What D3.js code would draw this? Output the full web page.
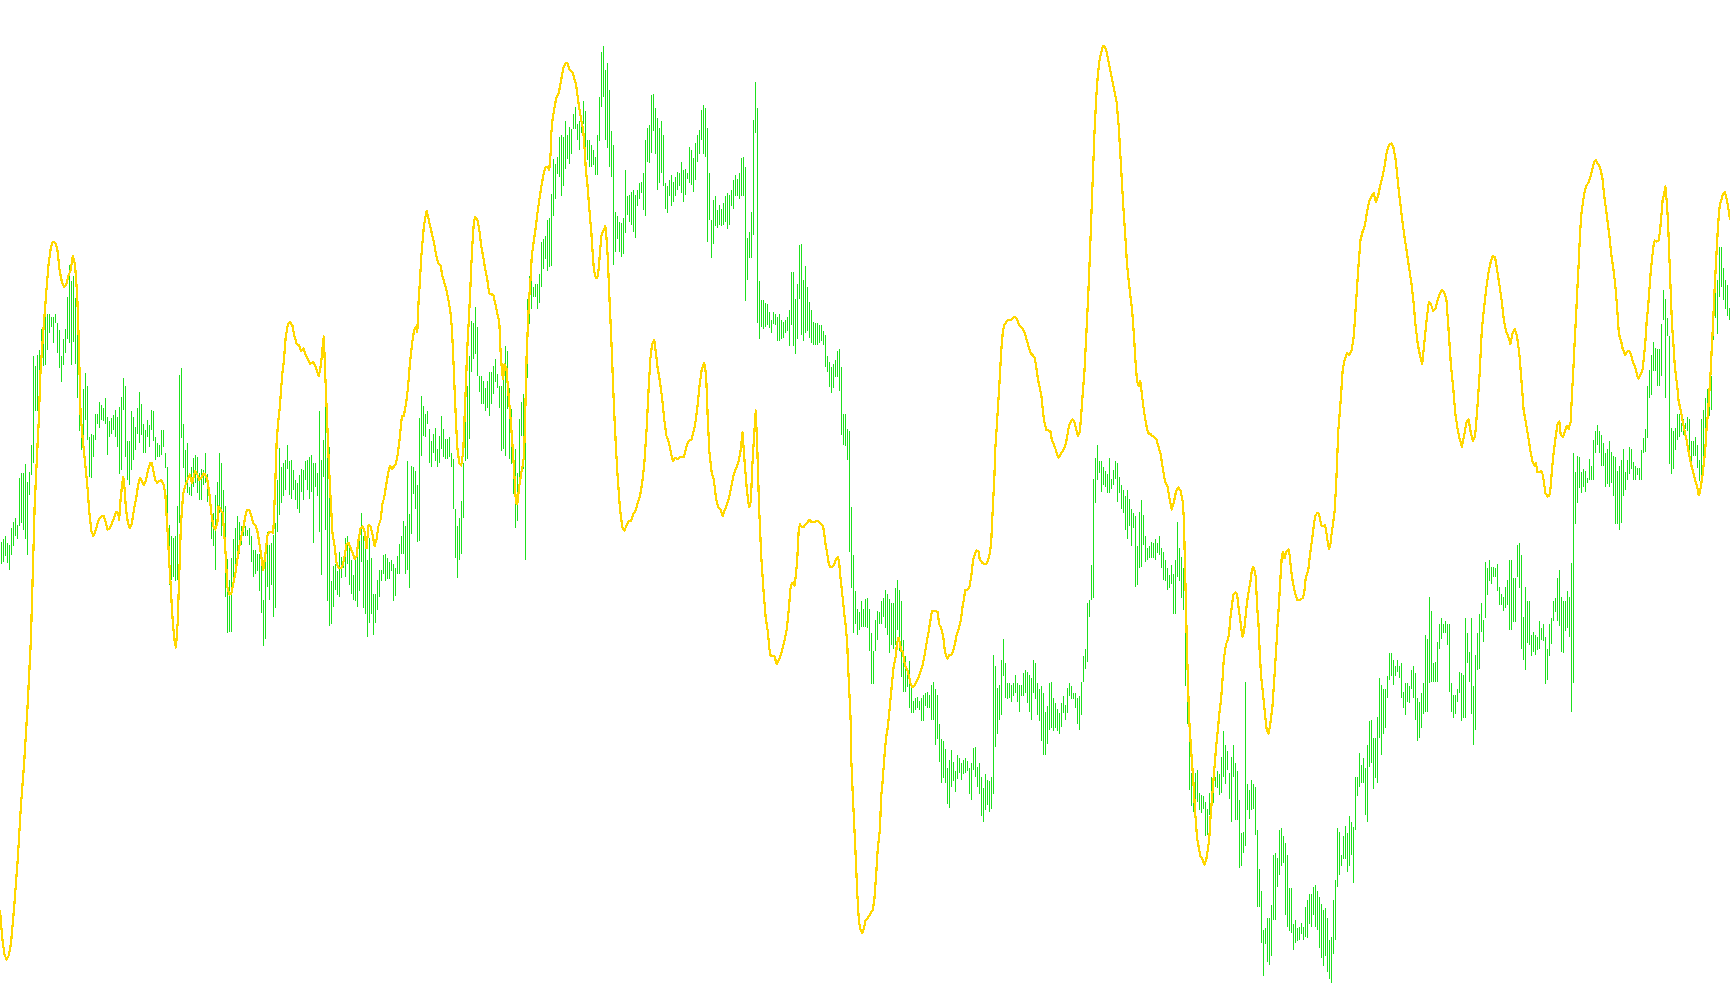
<!DOCTYPE html>
<html><head><meta charset="utf-8">
<script src="https://cdn.jsdelivr.net/npm/d3@7"></script>
<style>html,body{margin:0;padding:0;background:#fff;overflow:hidden}</style>
</head><body>
<svg id="chart" width="1730" height="1005"></svg>
<script>
const barHigh = [
509,511,514,508,506,521,527,530,524,567,571,571,579,563,572,597,677,668,678,683,
702,702,713,715,715,713,713,715,707,701,677,693,702,731,760,745,750,730,709,653,
619,647,662,650,604,607,606,625,625,636,633,630,639,622,618,621,624,628,622,631,
640,657,650,600,600,627,622,613,630,645,634,616,610,619,615,628,627,604,598,597,
610,610,589,577,524,514,512,514,541,660,666,616,592,598,559,577,
585,588,586,571,575,574,589,570,559,536,535,551,563,589,580,556,541,493,474,494,
511,521,532,527,523,529,523,520,521,514,501,501,498,498,489,456,504,518,506,508,
515,526,565,594,577,580,583,597,582,583,574,565,562,569,575,574,582,583,586,588,
580,580,571,627,583,601,639,621,595,473,487,489,482,500,495,494,512,514,505,492,
479,492,495,514,535,514,509,492,512,494,462,462,474,483,483,497,
498,494,491,492,489,485,496,507,514,528,523,582,534,578,577,573,560,621,641,632,
625,627,611,600,607,612,593,605,623,611,602,602,604,589,584,539,523,530,546,580,
648,650,677,709,707,722,704,659,659,655,648,655,663,663,668,675,661,650,650,663,
686,682,648,629,595,593,571,620,636,643,657,729,750,752,740,743,743,752,781,783,
786,801,802,824,856,851,858,876,878,876,890,878,885,883,897,903,
888,890,894,908,899,873,873,869,864,858,878,912,953,958,937,943,918,881,869,808,
804,799,798,802,846,822,823,826,828,823,828,834,835,843,873,884,887,914,915,902,
893,884,890,878,834,831,837,841,835,840,844,843,853,846,847,843,867,864,857,870,
878,882,900,905,902,884,843,801,819,822,810,814,811,816,822,825,823,828,837,841,
838,843,857,858,849,784,790,808,891,926,902,745,728,728,725,724,
717,710,717,715,713,715,710,708,710,713,719,753,753,729,743,778,779,746,759,740,
726,719,708,707,707,705,705,700,696,677,672,667,670,674,682,684,667,625,625,611,
609,540,497,464,448,445,455,448,457,458,448,426,410,438,446,445,455,458,465,462,
457,453,453,467,474,465,455,420,405,393,401,380,365,367,368,365,367,370,372,373,
370,379,382,375,370,344,330,328,321,304,311,320,309,301,316,313,
308,311,313,310,304,308,322,323,305,308,296,286,298,293,292,296,406,396,376,379,
402,421,399,381,381,379,381,388,381,379,379,390,393,391,388,385,402,399,381,375,
378,372,355,360,381,382,367,363,357,354,363,369,361,376,381,378,372,372,367,369,
382,405,412,453,456,488,566,585,597,582,582,577,573,570,585,566,574,582,580,568,
560,556,550,556,548,539,535,532,505,536,547,533,514,503,505,509,
508,511,508,514,503,500,492,485,479,488,480,492,527,503,495,485,476,390,361,299,
284,299,302,281,279,278,273,267,281,296,304,296,301,298,314,337,325,319,299,314,
325,308,301,275,245,246,382,289,284,293,289,287,248,212,192,157,159,168,168,180,
225,227,222,248,249,242,236,225,195,195,162,166,159,160,163,160,178,184,190,190,
196,198,192,187,181,175,177,168,148,151,184,202,249,246,225,242,
251,245,260,255,250,296,296,317,307,313,304,325,346,347,331,331,350,385,379,375,
375,387,408,408,402,396,402,396,399,373,381,381,378,393,396,390,367,364,372,381,
424,421,459,446,399,400,418,434,440,434,437,434,434,381,370,370,375,391,390,388,
440,426,409,440,378,406,426,443,453,438,491,485,492,486,486,485,489,468,462,459,
468,474,492,492,476,476,506,508,497,441,468,455,455,424,427,424,
423,437,431,434,423,412,434,440,455,458,476,483,459,455,455,464,459,490,589,572,
587,586,572,575,573,567,584,578,601,609,615,609,606,598,589,593,600,590,587,586,
573,578,583,593,572,583,595,593,581,578,576,576,592,603,611,650,665,678,690,685,
684,684,706,737,729,712,695,612,609,612,625,625,617,620,617,622,620,600,600,604,
597,583,620,628,639,647,662,659,718,748,746,776,776,757,746,742,721
];
const barLow = [
489,491,496,490,483,497,505,514,511,523,526,520,511,497,551,569,580,627,627,651,
663,668,669,683,698,704,689,707,680,666,654,669,680,693,689,669,690,670,639,609,
592,597,619,601,568,567,586,601,616,612,619,618,616,588,604,607,610,604,595,570,
574,628,586,565,560,574,583,592,607,598,606,589,589,604,595,610,600,583,586,586,
588,595,576,533,470,474,477,473,474,526,603,576,562,553,551,550,
559,562,553,547,547,560,562,545,544,511,505,483,523,535,514,520,459,426,427,427,
468,480,492,498,506,514,514,514,506,491,477,480,482,464,444,414,421,468,456,470,
441,449,518,533,544,550,556,575,551,548,556,547,539,535,554,547,565,556,548,554,
508,559,550,518,479,568,520,455,433,434,450,465,461,459,476,485,477,489,470,462,
456,455,450,464,491,449,443,423,435,443,424,435,447,459,473,480,
473,475,475,482,455,460,480,480,498,498,480,483,467,516,552,539,509,510,587,605,
604,616,580,577,589,582,577,580,593,586,584,584,586,577,539,494,476,492,498,530,
582,584,602,663,675,679,659,645,634,634,627,630,623,634,643,654,648,630,591,593,
587,629,584,579,552,521,528,561,605,575,492,657,706,720,731,731,720,725,740,756,
765,754,758,759,804,820,842,840,822,831,847,856,851,860,883,883,
873,864,879,888,856,855,849,849,850,841,841,872,903,912,873,866,849,840,760,772,
783,772,767,770,789,805,799,796,790,784,813,820,825,810,804,853,852,861,881,860,
828,834,843,831,811,807,822,813,817,822,828,831,825,817,823,838,834,832,826,837,
853,860,873,860,858,781,801,766,779,795,793,796,795,796,799,792,796,813,811,822,
822,820,822,822,727,746,766,766,787,879,707,693,704,702,704,705,
703,698,706,705,691,691,693,694,698,700,686,705,686,679,693,729,696,691,698,700,
694,689,687,687,687,689,691,687,667,663,649,644,648,658,658,646,606,597,596,583,
500,467,426,434,424,429,432,432,432,431,410,380,380,410,420,434,434,441,431,424,
408,415,412,415,429,410,386,373,373,377,358,354,354,356,358,356,346,346,360,358,
358,347,347,325,330,309,290,295,290,271,268,287,292,282,294,299,
293,298,299,301,280,275,302,296,287,280,260,255,266,270,264,267,280,323,335,347,
352,387,367,366,367,364,369,372,364,355,369,369,372,363,355,347,372,366,352,346,
328,316,316,326,338,340,337,340,337,335,341,354,347,354,369,366,366,358,344,338,
352,382,394,400,441,456,458,544,565,571,554,560,559,553,553,557,560,566,545,553,
539,535,520,511,523,505,521,468,470,485,486,506,491,492,494,494,
494,492,499,497,485,474,473,465,467,471,443,443,477,473,458,447,378,344,284,269,
264,270,273,266,263,267,242,243,261,269,272,287,286,279,281,296,289,302,276,255,
296,257,257,213,215,227,233,266,258,266,267,243,178,178,145,115,144,128,125,133,
166,166,196,207,215,218,171,160,156,154,139,145,147,148,153,148,151,150,162,160,
171,160,157,141,132,124,133,119,113,109,135,148,196,207,215,221,
221,210,215,225,200,248,278,287,290,290,261,255,305,308,285,295,290,331,316,335,
340,367,384,387,379,387,391,385,367,358,352,364,363,375,367,347,328,331,340,353,
355,355,381,382,382,382,382,412,421,426,426,415,373,355,349,353,364,372,346,349,
349,399,382,353,325,338,393,394,427,418,440,461,473,471,477,477,464,452,452,446,
449,452,429,429,436,436,477,467,412,402,393,417,415,405,409,406,
411,412,420,419,380,384,405,416,437,445,437,433,409,408,428,431,423,355,381,525,
544,558,553,559,554,562,565,565,565,589,597,589,578,578,559,561,559,562,550,525,
525,520,526,550,556,565,570,575,565,565,569,565,565,589,590,603,639,642,664,664,
650,650,659,710,639,695,579,570,575,592,601,604,608,606,611,609,586,581,587,587,
576,564,562,572,589,620,623,628,692,712,697,731,740,728,720,714,710
];
const signal = [
[0,175],[2,150],[4,135],[6,130],[8,134],[10,145],[13,180],[16,220],[19,270],[22,310],[25,360],[28,420],[30,490],
[31.4,541],[33.2,580],[35,616],[36.8,665],[38.7,692],[40.5,716],[42.3,740],[44,760],[46,775],[48,781],[50,780],
[52,774],[54,755],[56,745],[58,740],[60,742],[62,750],[64,755],[66,768],[68,760],[70,732],[71.3,695],[73,625],
[75,602],[77,582],[79,562],[81,535],[82.8,519],[84.6,514],[87,520],[89.4,529],[91.8,532],[94.2,532],[96,526],
[97.2,520],[99.7,521],[101.5,526],[103.3,530],[105,536],[107,535],[108,529],[109.3,547],[110.5,559],[111.7,568],
[113,556],[114.2,538],[116,526],[117.8,521],[119.6,526],[121.4,538],[123.2,547],[125,559],[126.8,567],[128.7,564],
[130.5,560],[132.3,565],[134,573],[136,580],[137.7,580],[139,573],[140.7,565],[142.5,562],[144.4,564],[146,565],
[148,562],[149.8,553],[151,532],[152.2,514],[153.4,490],[154.6,471],[156,445],[158,420],[159.5,413],[161,435],
[162.5,480],[164,525],[166,552],[168,560],[170,565],[172,570],[174,562],[177,573],[178.8,570],[180.6,565],
[182.5,567],[184.3,571],[186,570],[187.9,565],[189.7,553],[191.5,535],[193.3,523],[195,520],[197,526],[198,541],
[200,538],[201.8,535],[203.6,511],[204.8,493],[206,468],[207.8,461],[209.6,462],[211.4,471],[213.3,480],[215,492],
[217,505],[218.7,514],[220.5,521],[222.3,532],[224,538],[226,538],[227.8,532],[229.6,526],[231.4,524],[233,520],
[235,508],[236.8,496],[238.6,483],[240.4,496],[242.3,514],[244,518],[246,518],[247.7,517],[249.5,562],[250.7,598],
[252,616],[253.7,632],[255,650],[256,662],[257.4,674],[259,695],[261,706],[263,708],[265,705],[267,695],[269,688],
[271,687],[273,682],[275,684],[277,678],[279,675],[281,670],[284,672],[287,665],[289,659],[291,670],[292.4,685],
[293.5,695],[294.8,660],[296.3,624],[297.8,585],[299.6,549],[301.4,516],[303.3,505],[305,490],[307,485],[308.7,485],
[310.5,487],[312.3,496],[314,506],[316,508],[317.8,503],[319.6,499],[321.4,493],[323.2,496],[325,511],[326.8,521],
[328.6,523],[330.4,518],[332.2,503],[334,524],[335.9,523],[337.7,515],[339.5,505],[341.3,511],[343,523],[345,529],
[346.7,544],[348,548],[349.8,559],[351.6,570],[353.4,578],[355,575],[357,577],[358.9,580],[360.7,589],[362.5,605],
[364.3,623],[366,623],[368,634],[369.7,648],[371.5,670],[373.4,688],[375.2,700],[377,704],[378.2,699],[379.4,727],
[380.6,745],[381.8,767],[383,781],[384.2,795],[385.4,802],[386.7,809],[388.5,801],[390.3,793],[392,786],[393.9,777],
[395.7,767],[397.5,761],[399.3,759],[401,750],[403,743],[404.8,736],[406.6,727],[408.4,716],[409.6,702],[410.8,677],
[412,648],[413.2,620],[414.4,595],[416.3,580],[418,578],[419.9,591],[421,620],[422.3,652],[423.5,684],[424.7,706],
[426,731],[427,756],[428.3,781],[429.5,799],[430.7,803],[432.6,801],[434.4,792],[436.2,777],[438,767],[439.8,756],
[441.6,747],[443.4,734],[445.2,733],[447,733],[448.9,725],[450.7,716],[452.5,709],[453.7,681],[455,663],[456,656],
[457.3,670],[459,666],[461,641],[462.8,620],[464.6,595],[466.4,566],[467.6,544],[468.8,543],[470.6,559],[472.4,571],
[473.6,577],[475,587],[476,623],[477.3,677],[478.5,706],[479.7,731],[481,749],[482,768],[484,783],[485.7,795],
[487.5,810],[489.3,822],[491,833],[493,844],[494.8,849],[496.6,848],[497.8,846],[499,860],[499.6,878],[500.8,892],
[502,899],[503.2,906],[504.4,912],[506,914],[507.5,921],[508.7,928],[510,935],[511,940],[513,943],[514.7,942],
[516,937],[517.7,936],[519.5,933],[520.7,928],[522,924],[523.2,915],[524.4,906],[525.6,899],[526.8,891],[528.6,882],
[529.9,864],[531,846],[532.3,834],[533.5,819],[534.7,804],[536,789],[537,773],[538.3,755],[540,748],[541.3,748],
[542.5,755],[543.7,770],[545,786],[546,789],[547.4,792],[548.6,795],[549.8,783],[551,764],[552.2,734],[553.4,707],
[554.6,680],[555.5,655],[557,620],[558.5,590],[560,565],[562,538],[564,522],[566,519],[568,524],[570,528],[572,528],
[574,534],[576,537],[578,544],[580,550],[582,562],[584,580],[586,610],[588,650],[589.5,675],[591,688],[593,692],
[594.5,680],[596,667],[598,655],[600,640],[602,620],[604,605],[606,600],[608,590],[610,582],[612,585],[614,584],
[617,586],[620,586],[622,595],[624,600],[627,602],[630,615],[632,630],[634,650],[636,665],[638.3,671],[640,660],
[641.5,620],[643,590],[645,572],[647,565],[649,548],[651,540],[653,538],[655,532],[657,538],[659,543],[661,550],
[663,560],[665,570],[667,575],[669,580],[671,590],[673,608],[675,580],[677,555],[679,540],[680.5,545],[682,580],
[683.5,605],[685,628],[686.5,590],[688,540],[690,495],[692,465],[694,440],[696,427],[697.2,413],[698.4,406],
[700.2,405],[702,405],[703.9,398],[705.7,401],[707.5,406],[709.3,412],[711,419],[713,429],[714,438],[715.3,452],
[716.5,467],[717.7,471],[719,472],[720,469],[721.4,479],[722.6,493],[723.8,517],[725,525],[726.2,523],[728,522],
[729.8,524],[731.6,526],[733.4,529],[735.3,527],[738.3,527],[740.7,528],[742.5,527],[744.3,525],[746,523],
[747.3,514],[748.5,505],[749.8,498],[751,490],[752.2,486],[754,486],[755.8,488],[757.6,493],[759.4,495],[760.6,490],
[761.8,476],[763,465],[764.3,453],[765.5,441],[766.7,431],[767.9,417],[768.5,400],[769.7,375],[771,347],[771.5,313],
[772.7,285],[774,257],[775.5,225],[777,190],[778.5,165],[780,157],[781.5,154],[783,158],[784.5,166],[786,167],
[788,170],[789.5,173],[791,175],[792.5,185],[794,205],[795.5,230],[797.5,248],[798.7,278],[800,292],[801,306],
[802.3,323],[803.5,334],[804.7,341],[806,354],[807,365],[808.3,379],[810,396],[812,406],[813,417],[814.4,422],
[815.6,417],[816.8,410],[818,410],[819.2,403],[820.4,396],[822.2,393],[824,387],[825.3,380],[827,377],[829,379],
[830.7,382],[832.5,386],[834.3,391],[836,396],[838,406],[839.8,417],[841.6,427],[843.4,438],[844.6,446],[846.4,446],
[848.2,446],[850,445],[851.2,434],[853,431],[854.8,424],[856,413],[857.3,406],[858.5,403],[860.3,406],[862,406],
[864,410],[865.7,417],[867,424],[868,427],[870,434],[871.2,440],[872.4,450],[873.6,456],[874.8,465],[876.6,465],
[878.5,467],[879.7,474],[881,483],[882,493],[883.3,497],[885,501],[887,500],[888,493],[890,490],[891.7,489],
[893.6,489],[895.4,491],[897.2,499],[898.4,508],[899,523],[900.2,547],[901.4,571],[902,592],[903.2,610],[904.5,630],
[906,655],[907.5,682],[909,700],[910.5,706],[912,708],[914,710],[916,710],[918,712],[920,713],[922,710],[924,705],
[926,703],[928,700],[930,694],[932,687],[934,680],[936,678],[938,675],[939.5,665],[941,655],[942.5,648],[944,640],
[945.5,625],[947,615],[948.5,610],[950,610],[952,609],[953.4,601],[955,598],[957,592],[958.2,588],[959.4,585],
[961.2,588],[963,591],[964.8,594],[966,598],[967.2,604],[968.5,612],[970,617],[972,620],[974,617],[975.7,610],
[977,605],[978.7,608],[980,625],[981.5,645],[983,665],[984.5,695],[986,725],[987.5,760],[989,800],[990.5,840],
[992,880],[993.5,910],[995,932],[996.5,945],[998,952],[999.5,958],[1001,958],[1002.5,955],[1004,948],[1006,938],
[1008,928],[1010,918],[1012,908],[1014,885],[1016,850],[1018,815],[1020,785],[1021.5,760],[1023,745],[1024.5,732],
[1026,720],[1027.5,700],[1029,675],[1030.5,655],[1032,650],[1033.5,655],[1035,642],[1036.5,630],[1038,620],
[1039.5,612],[1041,607],[1042.5,607],[1044,605],[1046,604],[1048,602],[1050,595],[1052,588],[1054,575],[1056,563],
[1058,560],[1060,548],[1062,538],[1064,545],[1066,555],[1068,558],[1070,555],[1072,545],[1073,530],[1074.2,480],
[1076,405],[1077.8,348],[1079.6,320],[1081.4,295],[1083.3,263],[1085,240],[1086.3,233],[1088,224],[1090,221],
[1091.7,216],[1093.5,222],[1094.7,230],[1096,239],[1097,257],[1098.4,275],[1099.6,290],[1100.8,305],[1102,320],
[1103.2,332],[1104.4,345],[1105.6,357],[1106.8,366],[1108,384],[1109.2,402],[1110.4,411],[1111.6,417],[1112.9,420],
[1114,426],[1115.3,441],[1116.5,450],[1117.7,461],[1119.5,463],[1121.3,461],[1122.5,450],[1123.7,441],[1125,431],
[1126,423],[1127.4,426],[1128.6,438],[1129.8,450],[1131,459],[1132.2,467],[1133.4,473],[1134.6,483],[1135.8,486],
[1137,483],[1138.2,477],[1139.4,450],[1140.6,435],[1141.8,408],[1143,387],[1144.3,375],[1145.5,363],[1146.7,351],
[1148,339],[1149.7,335],[1151,341],[1152,349],[1153.3,360],[1154.5,378],[1155.7,396],[1157,417],[1158,435],
[1159.4,456],[1160.6,477],[1161.8,496],[1163,500],[1164.2,494],[1166,500],[1167.8,502],[1169,496],[1170.2,483],
[1172,471],[1173.9,462],[1175.7,456],[1177.5,456],[1179.3,457],[1181,458],[1182.3,465],[1183.5,476],[1184.7,480],
[1186,485],[1187,494],[1188.4,505],[1189.6,514],[1190.8,524],[1192,532],[1193.8,535],[1195.6,534],[1196.8,527],
[1198,523],[1199.8,523],[1201,524],[1202.2,517],[1203.5,508],[1204.7,502],[1206,508],[1207,517],[1208.3,526],
[1209.5,535],[1211,560],[1213,610],[1215,635],[1217,665],[1219,675],[1221,680],[1223,678],[1225,682],[1227,695],
[1229,725],[1231,755],[1233,782],[1235,790],[1237,795],[1239,808],[1241,818],[1243,822],[1245,825],[1247,817],
[1249,822],[1251,832],[1253,840],[1255,850],[1257,863],[1259,869],[1261,870],[1263,866],[1265,855],[1267,835],
[1269,817],[1271,800],[1273,785],[1275,772],[1277,758],[1279,745],[1281,728],[1283,705],[1285,688],[1287,678],
[1289,670],[1291,690],[1293,710],[1295,726],[1297,724],[1299,718],[1301,720],[1303,728],[1305,734],[1307,737],
[1309,735],[1311,728],[1313,700],[1315,670],[1317,650],[1319,625],[1321,612],[1323,602],[1325,595],[1327,605],
[1329,617],[1331,620],[1333,608],[1335,600],[1337,605],[1339,630],[1341,660],[1343,700],[1345,720],[1347,738],
[1349,752],[1351,762],[1353,768],[1355,767],[1357,755],[1359,742],[1361,728],[1363,710],[1365,700],[1367,695],
[1369,688],[1371,698],[1373,702],[1375,695],[1377,680],[1379,655],[1381,628],[1383,617],[1385,605],[1387,592],
[1389,582],[1391,578],[1392.2,580],[1393.4,572],[1395.2,572],[1397,573],[1398.2,570],[1399.5,562],[1400.7,553],
[1402.5,550],[1404.3,551],[1405.5,559],[1406.7,575],[1407.9,587],[1409.1,597],[1410.3,606],[1411.5,615],[1413.3,618],
[1414.5,606],[1416.4,604],[1418.2,608],[1420,614],[1421.8,611],[1423.6,618],[1424.8,643],[1426,665],[1427.2,690],
[1428.4,712],[1429.6,737],[1430.9,762],[1432,787],[1433.3,806],[1434.5,815],[1435.7,823],[1436.9,829],[1438.1,832],
[1440,835],[1441.7,840],[1443.5,848],[1445,853],[1446.5,855],[1448,852],[1449.5,850],[1451,845],[1452.6,837],
[1453.8,824],[1455,815],[1456.2,806],[1457.4,796],[1458.6,787],[1459.8,775],[1461,765],[1462.3,756],[1463.5,746],
[1464.7,734],[1465.9,718],[1467.1,700],[1468.3,693],[1469.5,690],[1470.7,684],[1471.9,681],[1473.1,678],[1474.3,681],
[1475.5,682],[1476.8,682],[1478,679],[1479.8,673],[1481.6,668],[1482.8,665],[1484,659],[1485.2,657],[1486.4,659],
[1487.6,662],[1488.8,665],[1490,676],[1491.3,690],[1492.5,709],[1493.7,721],[1494.9,737],[1496.1,753],[1497.3,765],
[1498.5,776],[1499.7,782],[1501.5,781],[1503.3,782],[1504.5,790],[1505.7,803],[1506.9,818],[1508.2,824],[1509.4,831],
[1510.6,818],[1511.8,800],[1513,768],[1514.2,737],[1515.4,706],[1516.6,690],[1517.8,671],[1519,659],[1520.2,650],
[1521.4,637],[1522.6,631],[1523.9,625],[1525.1,618],[1526.3,612],[1527.5,606],[1528.7,601],[1529.9,594],[1531.1,587],
[1532.3,581],[1533.5,576],[1534.7,572],[1535.9,567],[1537.2,562],[1538.4,558],[1539.6,551],[1540.8,554],[1542,562],
[1543.2,570],[1544.4,581],[1545.6,593],[1546.8,612],[1548,625],[1549.2,643],[1550.4,662],[1551.6,687],[1552.9,712],
[1554,737],[1555.3,762],[1556.5,784],[1557.7,803],[1558.9,815],[1560.1,818],[1561.3,823],[1563.1,826],[1564.3,823],
[1565.5,817],[1566.8,809],[1568,801]
];

const W = 1730, H = 1005;
const svg = d3.select('#chart');
const xBar = d3.scaleBand().domain(d3.range(barHigh.length)).range([0, W]);
const xTime = d3.scaleLinear().domain([0, 1568]).range([0, W]);
const y = d3.scaleLinear().domain([89, 1000]).range([H, 0]);

svg.append('rect').attr('width', W).attr('height', H).attr('fill', '#ffffff');

svg.append('g').attr('class', 'bars')
  .selectAll('rect').data(barHigh).join('rect')
  .attr('x', (d, i) => Math.round(xBar(i) + xBar.bandwidth() / 2))
  .attr('width', 1)
  .attr('y', d => Math.round(y(d)))
  .attr('height', (d, i) => Math.max(1, Math.round(y(barLow[i])) - Math.round(y(d))))
  .attr('fill', '#1ee01e')
  .attr('shape-rendering', 'crispEdges');

svg.append('path').datum(signal)
  .attr('d', d3.line().x(d => xTime(d[0])).y(d => y(d[1])))
  .attr('fill', 'none')
  .attr('stroke', '#ffd700')
  .attr('stroke-width', 2.2)
  .attr('stroke-linejoin', 'round')
  .attr('shape-rendering', 'crispEdges');
</script>
</body></html>
